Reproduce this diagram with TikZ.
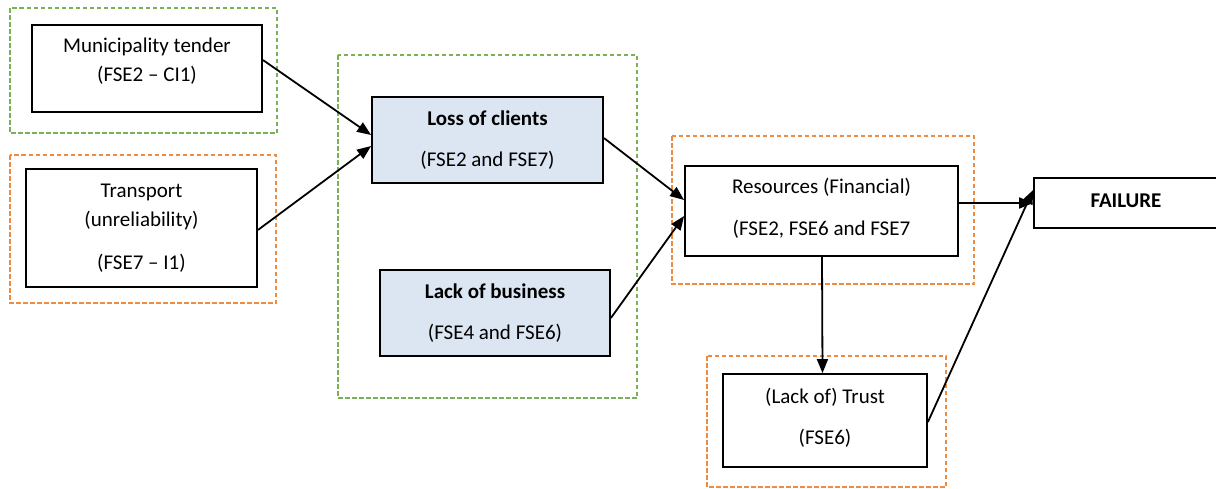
\documentclass[tikz,border=0pt]{standalone}
\usepackage{fontspec}
\setmainfont{Carlito}
\usetikzlibrary{arrows.meta}
\definecolor{grpgreen}{HTML}{77B255}
\definecolor{grporange}{HTML}{F08A3E}
\definecolor{hiblue}{HTML}{DCE6F2}
\begin{document}
\begin{tikzpicture}[x=1pt,y=-1pt,
  box/.style={draw=black,line width=1.8pt,rectangle,inner sep=0pt},
  hibox/.style={box,fill=hiblue},
  grp/.style={line width=1.3pt,dash pattern=on 4.5pt off 2.5pt},
  txt/.style={font=\fontsize{21}{24}\selectfont,inner sep=0pt,anchor=center},
  btxt/.style={txt,font=\fontsize{21}{24}\selectfont\bfseries},
  link/.style={line width=1.8pt,-{Triangle[length=14pt,width=11pt]}}]
\useasboundingbox (0,0) rectangle (1216,488);
\clip (0,0) rectangle (1216,488);
\fill[white] (0,0) rectangle (1216,488);

% dashed grouping frames
\draw[grp,grpgreen] (10,8) rectangle (277,133);
\draw[grp,grporange] (10,155) rectangle (276,303);
\draw[grp,grpgreen] (338,55) rectangle (637,398);
\draw[grp,grporange] (672,136) rectangle (974,284);
\draw[grp,grporange] (707,356) rectangle (946,487);

% boxes
\node[box,minimum width=230pt,minimum height=87pt] (mun) at (147,68.5) {};
\node[box,minimum width=231pt,minimum height=118pt] (trn) at (141.5,228) {};
\node[hibox,minimum width=231pt,minimum height=86pt] (loss) at (487.5,140) {};
\node[hibox,minimum width=230pt,minimum height=86pt] (lack) at (495,313) {};
\node[box,minimum width=273pt,minimum height=90pt] (res) at (821.5,211) {};
\node[box,minimum width=204pt,minimum height=93pt] (trust) at (825,420.5) {};
\node[box,minimum width=196pt,minimum height=50pt] (fail) at (1132,203) {};

% box texts
\node[txt] (mun1) at (147,47) {Municipality tender};
\node[txt] (mun2) at (147,75) {(FSE2 – CI1)};
\node[txt] (trn1) at (141.5,192) {Transport};
\node[txt] (trn2) at (141.5,221) {(unreliability)};
\node[txt] (trn3) at (141.5,263) {(FSE7 – I1)};
\node[btxt] (loss1) at (487.5,118) {Loss of clients};
\node[txt] (loss2) at (487.5,160) {(FSE2 and FSE7)};
\node[btxt] (lack1) at (495,291) {Lack of business};
\node[txt] (lack2) at (495,333) {(FSE4 and FSE6)};
\node[txt] (res1) at (821.5,187) {Resources (Financial)};
\node[txt] (res2) at (821.5,229) {(FSE2, FSE6 and FSE7};
\node[txt] (trust1) at (825,397) {(Lack of) Trust};
\node[txt] (trust2) at (825,438) {(FSE6)};
\node[btxt] (fail1) at (1126,201) {FAILURE};

% connectors
\draw[link] ([yshift=8.5pt]mun.east) -- ([yshift=5pt]loss.west);
\draw[link] ([yshift=-2pt]trn.east) -- ([yshift=-6pt]loss.west);
\draw[link] ([yshift=2pt]loss.east) -- ([yshift=11pt]res.west);
\draw[link] ([yshift=-5pt]lack.east) -- ([yshift=-5pt]res.west);
\draw[link] ([yshift=8pt]res.east) -- ([yshift=0pt]fail.west);
\draw[link] ([xshift=0.5pt]res.south) -- ([xshift=-2.5pt]trust.north);
\draw[link] ([yshift=-1.5pt]trust.east) -- ([yshift=13pt]fail.west);
\end{tikzpicture}
\end{document}
